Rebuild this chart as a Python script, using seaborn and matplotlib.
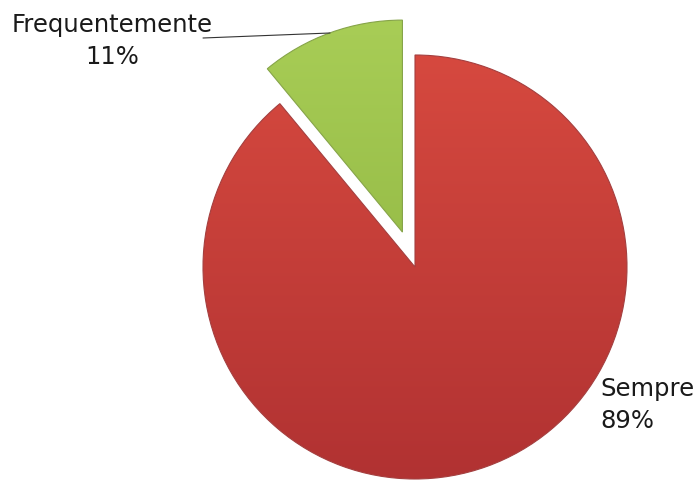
import numpy as np
import matplotlib
matplotlib.use("Agg")
import matplotlib.pyplot as plt
import seaborn as sns

# Data
labels = ["Sempre", "Frequentemente"]
values = [89, 11]
explode = [0.0, 0.175]

sns.set_theme(style="white")
plt.rcParams["font.family"] = ["DejaVu Sans"]

W, H = 699, 482
CX, CY, R = 415, 267, 212  # pie centre / radius in pixels


def px(x, y):
    """Pixel position (origin top-left) -> data units of a unit pie."""
    return (x - CX) / R, (CY - y) / R


fig = plt.figure(figsize=(W / 100, H / 100), dpi=100)
ax = fig.add_axes([0, 0, 1, 1])

base_colors = ["#C53D3B", "#9BC048"]
top_colors = ["#D6493F", "#A8CD56"]
bottom_colors = ["#B13232", "#8AB03D"]

wedges, _ = ax.pie(values, startangle=90, counterclock=False, radius=1.0,
                   explode=explode, colors=base_colors,
                   wedgeprops=dict(linewidth=0.8))

# vertical shading inside each wedge
for w, ct, cb in zip(wedges, top_colors, bottom_colors):
    pal = sns.blend_palette([cb, ct], n_colors=256)
    grad = np.array(pal)[:, None, :]
    cx, cy = w.center
    im = ax.imshow(grad, origin="lower", aspect="auto", interpolation="bicubic",
                   extent=(cx - 1, cx + 1, cy - 1, cy + 1), zorder=1.5)
    im.set_clip_path(w)
    w.set_edgecolor(sns.desaturate(cb, 0.8))
    w.set_zorder(2)
    w.set_facecolor("none")

ax.set_xlim(px(0, 0)[0], px(W, 0)[0])
ax.set_ylim(px(0, H)[1], px(0, 0)[1])
ax.set_aspect("auto")
ax.axis("off")

# labels (anchored at the baseline of the percentage line)
fs = 17.5
x0, y0 = px(112, 64)
ax.text(x0, y0, f"{labels[1]}\n{values[1]}%", ha="center", va="baseline",
        fontsize=fs, color="#1a1a1a", linespacing=1.4)
x1, y1 = px(600, 428)
ax.text(x1, y1, f"{labels[0]}\n{values[0]}%", ha="left", va="baseline",
        fontsize=fs, color="#1a1a1a", linespacing=1.4)

# leader line to the small slice
la, lb = px(203, 38), px(330, 33)
ax.plot([la[0], lb[0]], [la[1], lb[1]], color="#333333", lw=0.8)

fig.savefig("out.png", dpi=100)
